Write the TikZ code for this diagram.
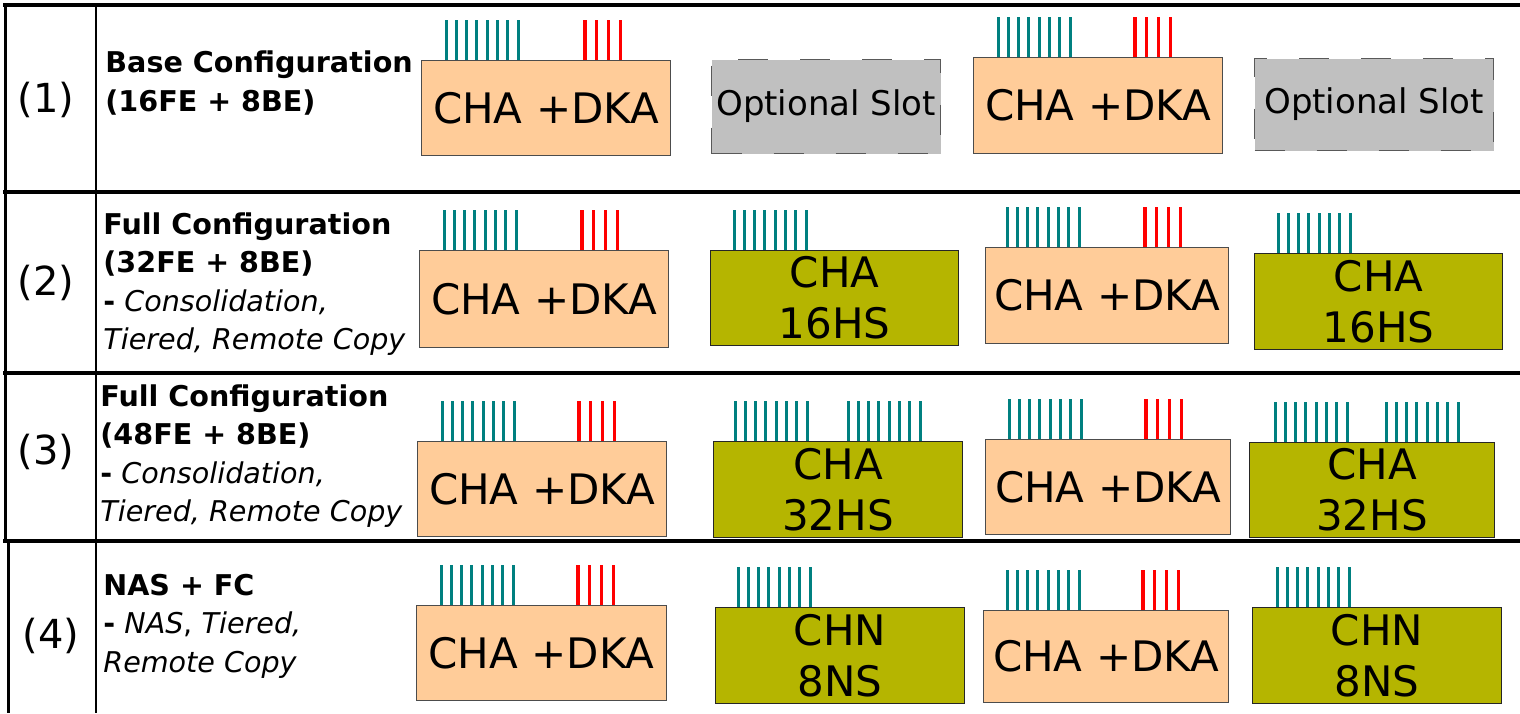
\documentclass[tikz,border=0pt]{standalone}
\usepackage{fontspec}
\setmainfont{DejaVu Sans}
\usetikzlibrary{positioning}
\definecolor{dkafill}{HTML}{FFCC99}
\definecolor{chafill}{HTML}{B5B500}
\definecolor{slotfill}{HTML}{C0C0C0}
\definecolor{feteal}{HTML}{008080}
\tikzset{size/.style 2 args=
   {minimum width=#1*0.5pt,
    minimum height=#2*0.5pt}}
\tikzset{dka/.style=
   {rectangle,
    draw=black!70,
    fill=dkafill,
    line width=0.6pt,
    inner sep=0pt,
    text centered,
    anchor=north west,
    font=\fontsize{21}{25.5}\selectfont}}
\tikzset{cha/.style=
   {dka,
    draw=black!85,
    fill=chafill,
    align=center}}
\tikzset{slot/.style=
   {dka,
    draw=black!65,
    fill=slotfill,
    dash pattern=on 15pt off 16pt,
    font=\fontsize{17}{20}\selectfont}}
\tikzset{desc/.style=
   {align=left,
    anchor=west,
    inner sep=0pt,
    font=\fontsize{14.3}{19.2}\selectfont}}
\tikzset{num/.style=
   {inner sep=0pt,
    font=\fontsize{20}{23}\selectfont}}
\tikzset{fe-port/.style = {draw=feteal, line width=1.5pt}}
\tikzset{be-port/.style = {draw=red, line width=1.6pt}}
\tikzset{rule/.style = {draw, line width=2pt}}
% eight front-end ports above a board
\newcommand{\feports}[2]{%
  \foreach \k in {0,...,7}
    \draw [fe-port] ([xshift={(#2+\k*10.3)*0.5pt}]#1.north west) -- ++(0,-40);}
% four back-end ports above a board
\newcommand{\beports}[2]{%
  \foreach \k in {0,...,3}
    \draw [be-port] ([xshift={(#2+\k*11.7)*0.5pt}]#1.north west) -- ++(0,-40);}

\begin{document}
\begin{tikzpicture}[x=0.5pt,y=-0.5pt]
    \useasboundingbox (0,0) rectangle (1520,713);

    % table frame
    \draw [rule] (3,5) -- (1520,5);
    \draw [rule] (3,192) -- (1520,192);
    \draw [rule] (3,373) -- (1520,373);
    \draw [rule] (3,541) -- (1520,541);
    \draw [line width=1.5pt] (5,5) -- (5,541);
    \draw [line width=1.5pt] (8,541) -- (8,713);
    \draw [line width=0.6pt] (96,5) -- (96,713);

    % row numbers
    \node [num] (n1) at (46,100) {(1)};
    \node [num] (n2) at (46,283) {(2)};
    \node [num] (n3) at (46,452) {(3)};
    \node [num] (n4) at (51,636) {(4)};

    % row descriptions
    \node [desc] (d1) at (105,83)
    {\textbf{Base Configuration}\\\textbf{(16FE + 8BE)}};
    \node [desc] (d2) at (103,284)
    {\textbf{Full Configuration}\\\textbf{(32FE + 8BE)}\\
     \textbf{-} \textit{Consolidation,}\\\textit{Tiered, Remote Copy}};
    \node [desc] (d3) at (100,456)
    {\textbf{Full Configuration}\\\textbf{(48FE + 8BE)}\\
     \textbf{-} \textit{Consolidation,}\\\textit{Tiered, Remote Copy}};
    \node [desc] (d4) at (103,626)
    {\textbf{NAS + FC}\\\textbf{-} \textit{NAS}, \textit{Tiered,}\\
     \textit{Remote Copy}};

    % row 1
    \node [dka, size={249}{95}] (a11) at (421,60) {CHA +DKA};
    \node [slot, size={229}{94}] (s12) at (711,59) {Optional Slot};
    \node [dka, size={249}{96}] (a13) at (973,57) {CHA +DKA};
    \node [slot, size={239}{92}] (s14) at (1254,58) {Optional Slot};
    \feports{a11}{25} \beports{a11}{164}
    \feports{a13}{25} \beports{a13}{162}

    % row 2
    \node [dka, size={249}{97}] (a21) at (419,250) {CHA +DKA};
    \node [cha, size={248}{95}] (h22) at (710,250) {CHA\\16HS};
    \node [dka, size={243}{96}] (a23) at (985,247) {CHA +DKA};
    \node [cha, size={248}{96}] (h24) at (1254,253) {CHA\\16HS};
    \feports{a21}{25} \beports{a21}{163}
    \feports{h22}{24}
    \feports{a23}{22} \beports{a23}{160}
    \feports{h24}{24}

    % row 3
    \node [dka, size={249}{95}] (a31) at (417,441) {CHA +DKA};
    \node [cha, size={249}{96}] (h32) at (713,441) {CHA\\32HS};
    \node [dka, size={245}{95}] (a33) at (985,439) {CHA +DKA};
    \node [cha, size={245}{95}] (h34) at (1249,442) {CHA\\32HS};
    \feports{a31}{25} \beports{a31}{162}
    \feports{h32}{22} \feports{h32}{135}
    \feports{a33}{24} \beports{a33}{161}
    \feports{h34}{26} \feports{h34}{137}

    % row 4
    \node [dka, size={250}{95}] (a41) at (416,605) {CHA +DKA};
    \node [cha, size={249}{96}] (c42) at (715,607) {CHN\\8NS};
    \node [dka, size={245}{92}] (a43) at (983,610) {CHA +DKA};
    \node [cha, size={249}{96}] (c44) at (1252,607) {CHN\\8NS};
    \feports{a41}{25} \beports{a41}{162}
    \feports{c42}{23}
    \feports{a43}{24} \beports{a43}{160}
    \feports{c44}{25}

\end{tikzpicture}
\end{document}
